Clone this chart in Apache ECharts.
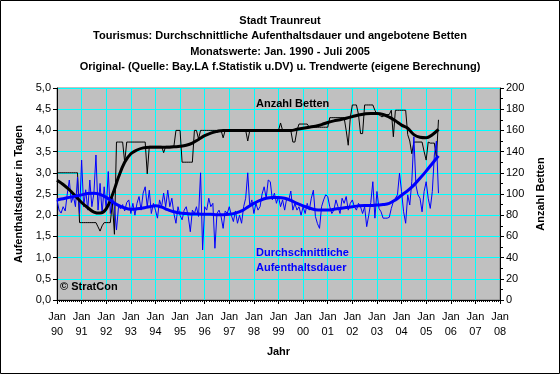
<!DOCTYPE html>
<html>
<head>
<meta charset="utf-8">
<script src="https://cdn.jsdelivr.net/npm/echarts@6/dist/echarts.min.js"></script>
<style>
html,body{margin:0;padding:0;background:#fff;}
#c{width:560px;height:374px;}
</style>
</head>
<body>
<div id="c"></div>
<script>
// x-axis tick labels (January of each year)
const yearLabels = ['90','91','92','93','94','95','96','97','98','99','00','01','02','03','04','05','06','07','08'];

// Monthly average length of stay (days), Jan 1990 - Jul 2005
const monthlyStay = [
  2.36,2.12,2.05,2.2,2.1,2.5,2.83,2.3,2.45,2.2,
  2.9,2.04,3.3,2.2,2.6,2.12,2.83,2.2,2.52,3.42,
  2.12,2.75,2.04,2.67,2.12,3.03,2.04,2.44,2.2,1.65,
  2.2,2.15,2.25,2.1,2.3,2.36,2.04,2.28,2.0,2.28,
  2.44,2.12,2.52,2.67,2.2,2.59,2.04,2.28,2.12,1.93,
  2.36,2.2,2.52,2.2,
  2.59,2.2,2.4,2.04,1.81,2.2,
  2.0,1.89,2.12,2.2,1.97,1.61,2.12,2.04,2.2,1.97,
  3.0,1.18,2.2,2.12,2.4,2.2,2.28,1.22,2.04,2.12,
  1.97,
  1.69,2.1,2.04,2.2,2.0,1.85,2.1,1.81,2.0,
  1.81,2.2,2.4,3.0,2.2,2.36,2.04,2.28,2.12,2.2,
  2.5,2.67,2.4,2.83,2.79,2.36,2.52,2.28,2.44,2.2,
  2.36,2.12,2.4,2.36,2.57,2.12,2.28,2.12,2.2,2.0,
  2.2,2.04,2.28,2.12,2.4,2.59,1.97,1.8,1.69,2.2,
  2.36,2.48,2.44,2.2,2.04,2.12,2.36,2.2,2.04,2.4,
  2.28,2.44,2.12,2.28,2.36,2.2,2.12,2.28,2.2,2.04,
  2.2,1.73,2.0,
  2.3,2.79,1.93,2.56,2.16,2.08,1.93,
  1.93,1.93,1.95,2.16,2.32,2.4,2.48,2.99,2.56,2.08,
  1.81,2.48,2.24,2.79,3.85,2.71,2.48,2.4,2.08,2.56,
  2.79,2.4,2.16,2.56,3.42,3.75,2.52
];

// Monthly number of beds offered, Jan 1990 - Jul 2005
const monthlyBeds = [
  120,120,120,120,120,120,120,120,120,120,120,
  73,73,73,73,73,73,73,73,73,
  69,65,70,
  73,73,73,73,
  92,62,149,
  149,149,149,
  130,
  149,149,149,149,149,149,149,149,149,149,
  119,
  145,145,145,145,145,145,145,
  139,
  145,145,145,145,145,
  160,160,160,
  130,130,130,130,130,130,
  160,160,
  152,
  160,160,160,160,160,160,160,160,160,160,160,
  153,
  160,160,160,160,160,160,160,160,160,160,160,
  150,
  160,160,160,160,160,160,160,160,160,160,160,160,160,160,160,
  167,
  160,160,160,160,160,
  149,149,
  160,
  166,166,166,166,166,
  163,163,163,163,163,163,163,163,163,163,
  172,172,172,172,172,172,172,172,
  160,146,172,
  184,184,184,
  175,
  157,157,
  184,184,184,184,184,
  179,
  175,175,
  173,173,
  175,175,175,
  179,154,
  179,179,179,179,179,179,
  156,150,138,
  149,149,149,149,149,
  140,132,149,
  148,148,148,
  134,170
];

// Trend values, every third month from Jan 1990 to Jul 2005
const stayTrend = [
  2.36,2.39,2.42,2.45,2.48,2.51,2.52,2.49,2.42,2.32,
  2.23,2.17,2.14,2.15,2.17,2.2,2.22,2.19,2.13,2.08,
  2.05,2.04,2.03,2.03,2.02,2.02,2.01,2.01,2.02,2.05,
  2.1,2.19,2.28,2.35,2.4,2.42,2.42,2.4,2.35,2.28,
  2.22,2.17,2.13,2.12,2.12,2.14,2.16,2.18,2.2,2.22,
  2.23,2.23,2.24,2.25,2.28,2.36,2.47,2.58,2.71,2.87,
  3.04,3.22,3.4
];
const bedsTrend = [
  113,109,104,98,92,87,83,82,86,99,
  116,130,138,141.5,143.5,144,144,144,144,144.5,
  145,146,148,151.5,155,157.5,159,160,160,160,
  160,160,160,160,160,160,160,160,160,161,
  162,163,164,165.5,167.5,169,170,171.5,173,174.5,
  175.5,176,176,175,172.5,169,165,162,156,153.5,
  153,156,161
];

const stayData = monthlyStay.map((v, i) => [i, v]);
const bedsData = monthlyBeds.map((v, i) => [i, v]);
const stayTrendData = stayTrend.map((v, i) => [i * 3, v]);
const bedsTrendData = bedsTrend.map((v, i) => [i * 3, v]);

const FONT = "'Liberation Sans', Arial, sans-serif";
const chart = echarts.init(document.getElementById('c'), null, {renderer: 'canvas'});
chart.setOption({
  animation: false,
  backgroundColor: '#ffffff',
  textStyle: {fontFamily: FONT},
  title: {
    text: 'Stadt Traunreut\nTourismus: Durchschnittliche Aufenthaltsdauer und angebotene Betten\nMonatswerte: Jan. 1990 - Juli 2005\nOriginal- (Quelle: Bay.LA f.Statistik u.DV) u. Trendwerte (eigene Berechnung)',
    left: 'center',
    top: 13,
    padding: 0,
    textStyle: {fontFamily: FONT, fontSize: 11, fontWeight: 'bold', color: '#000', lineHeight: 15.5, align: 'center'}
  },
  grid: {
    left: 57, right: 60, top: 88, bottom: 74,
    show: true, backgroundColor: '#C0C0C0', borderColor: '#808080', borderWidth: 1
  },
  xAxis: {
    type: 'value', min: 0, max: 216, interval: 12,
    name: 'Jahr', nameLocation: 'middle', nameGap: 46,
    nameTextStyle: {fontFamily: FONT, fontSize: 11, fontWeight: 'bold', color: '#000'},
    axisLine: {show: true, onZero: false, lineStyle: {color: '#000', width: 1}},
    axisTick: {show: true, length: 4, lineStyle: {color: '#000'}},
    minorTick: {show: true, splitNumber: 12, length: 2, lineStyle: {color: '#000'}},
    splitLine: {show: true, lineStyle: {color: '#00FFFF', width: 1}},
    axisLabel: {
      fontFamily: FONT, fontSize: 11, color: '#000', margin: 9, lineHeight: 15,
      formatter: (v) => 'Jan\n' + yearLabels[Math.round(v / 12)]
    }
  },
  yAxis: [
    {
      type: 'value', min: 0, max: 5, interval: 0.5, position: 'left',
      name: 'Aufenthaltsdauer in Tagen', nameLocation: 'middle', nameRotate: 90, nameGap: 27,
      nameTextStyle: {fontFamily: FONT, fontSize: 11, fontWeight: 'bold', color: '#000'},
      axisLine: {show: true, lineStyle: {color: '#000', width: 1}},
      axisTick: {show: true, length: 4, lineStyle: {color: '#000'}},
      splitLine: {show: true, lineStyle: {color: '#00FFFF', width: 1}},
      axisLabel: {fontFamily: FONT, fontSize: 11, color: '#000', margin: 6,
        formatter: (v) => v.toFixed(1).replace('.', ',')}
    },
    {
      type: 'value', min: 0, max: 200, interval: 20, position: 'right',
      name: 'Anzahl Betten', nameLocation: 'middle', nameRotate: 90, nameGap: 33,
      nameTextStyle: {fontFamily: FONT, fontSize: 11, fontWeight: 'bold', color: '#000'},
      axisLine: {show: true, lineStyle: {color: '#000', width: 1}},
      axisTick: {show: true, length: 4, lineStyle: {color: '#000'}},
      minorTick: {show: true, splitNumber: 2, length: 3, lineStyle: {color: '#000'}},
      splitLine: {show: false},
      axisLabel: {fontFamily: FONT, fontSize: 11, color: '#000', margin: 6}
    }
  ],
  series: [
    {type: 'line', yAxisIndex: 1, data: bedsData, symbol: 'none', z: 2,
      lineStyle: {color: '#000000', width: 1}},
    {type: 'line', yAxisIndex: 0, data: stayData, symbol: 'none', z: 3,
      lineStyle: {color: '#0000FF', width: 1}},
    {type: 'line', yAxisIndex: 1, data: bedsTrendData, symbol: 'none', smooth: 0.4, z: 4,
      lineStyle: {color: '#000000', width: 3}},
    {type: 'line', yAxisIndex: 0, data: stayTrendData, symbol: 'none', smooth: 0.4, z: 5,
      lineStyle: {color: '#0000FF', width: 3}}
  ],
  graphic: [
    {type: 'rect', silent: true, z: 100, shape: {x: 0.5, y: 0.5, width: 559, height: 373},
      style: {fill: 'none', stroke: '#000', lineWidth: 1}},
    {type: 'text', left: 256, top: 98, z: 100,
      style: {text: 'Anzahl Betten', fill: '#000', font: 'bold 11px ' + FONT}},
    {type: 'text', left: 256, top: 245, z: 100,
      style: {text: 'Durchschnittliche\nAufenthaltsdauer', fill: '#0000FF', font: 'bold 11px ' + FONT, lineHeight: 15.5}},
    {type: 'text', left: 60, top: 281, z: 100,
      style: {text: '© StratCon', fill: '#000', font: 'bold 11px ' + FONT}}
  ]
});
</script>
</body>
</html>
